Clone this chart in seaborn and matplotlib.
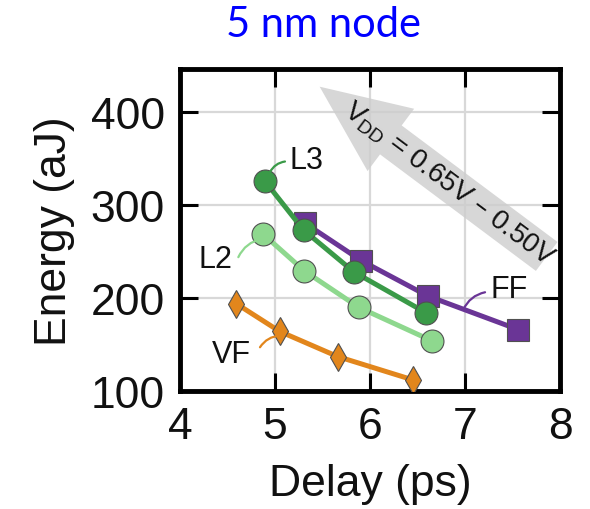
import numpy as np
import pandas as pd
import seaborn as sns
import matplotlib.pyplot as plt

# Energy vs. delay for four cell flavours at the 5 nm node
ff_delay = [5.32, 5.91, 6.61, 7.56]
ff_energy = [280, 240, 202, 166]
l3_delay = [4.89, 5.30, 5.83, 6.59]
l3_energy = [326, 273, 228, 184]
l2_delay = [4.87, 5.31, 5.88, 6.65]
l2_energy = [269, 229, 190, 154]
vf_delay = [4.59, 5.05, 5.66, 6.45]
vf_energy = [194, 164, 137, 112]

x_ticks = [4, 5, 6, 7, 8]
y_ticks = [100, 200, 300, 400]

sns.set_theme(style="white")
plt.rcParams["font.family"] = ["Liberation Sans", "DejaVu Sans"]
plt.rcParams["mathtext.default"] = "regular"

c_ff = "#6a3596"
c_l3 = "#3a9a48"
c_l2 = "#8ed88e"
c_vf = "#e2861c"
edge = "#505050"

fig = plt.figure(figsize=(5.9, 5.1), dpi=100)
ax = fig.add_axes([180 / 590, 118 / 510, 380 / 590, 322 / 510])

# direction-of-VDD arrow (drawn first, under the data)
ax.annotate("", xy=(5.47, 427), xytext=(7.86, 244.6),
            arrowprops=dict(arrowstyle="simple,head_length=6.4,head_width=5.6,tail_width=2.6",
                            mutation_scale=10, fc="#cdcdcd", ec="none", alpha=0.8,
                            shrinkA=0, shrinkB=0), zorder=1)
ax.text(6.83, 323, r"$V_{DD}$ = 0.65V – 0.50V", rotation=-36.75,
        rotation_mode="anchor", ha="center", va="center", fontsize=20,
        color="#111111", zorder=2)

line_kw = dict(linewidth=3.6, markeredgecolor=edge, markeredgewidth=0.8, ax=ax, zorder=3)
sns.lineplot(x=ff_delay, y=ff_energy, color=c_ff, marker="s", markersize=16.5, **line_kw)
sns.lineplot(x=l3_delay, y=l3_energy, color=c_l3, marker="o", markersize=16.5, **line_kw)
sns.lineplot(x=l2_delay, y=l2_energy, color=c_l2, marker="o", markersize=16.5, **line_kw)
sns.lineplot(x=vf_delay, y=vf_energy, color=c_vf, marker="d", markersize=14, **line_kw)

# series labels with curved leader lines
labels = [
    ("L3", (5.33, 348.7), (4.947, 335.2), (5.105, 346.6), c_l3, -0.25),
    ("L2", (4.37, 241.9), (4.614, 243.8), (4.860, 263.4), c_l2, -0.25),
    ("VF", (4.545, 139.8), (4.842, 147.0), (5.053, 159.5), c_vf, -0.25),
    ("FF", (7.46, 209.7), (6.982, 187.4), (7.211, 206.1), c_ff, -0.25),
]
for text, pos, start, end, col, rad in labels:
    ax.text(pos[0], pos[1], text, ha="center", va="center", fontsize=22,
            color="#111111", zorder=4)
    ax.annotate("", xy=end, xytext=start, zorder=4,
                arrowprops=dict(arrowstyle="-", color=col, lw=1.6, shrinkA=0, shrinkB=0,
                                connectionstyle=f"arc3,rad={rad}"))

ax.set_xlim(4, 8)
ax.set_ylim(100, 446)
ax.set_xticks(x_ticks)
ax.set_yticks(y_ticks)
ax.grid(True, color="#d8d8d8", linewidth=1.6)
ax.set_axisbelow(True)
ax.tick_params(direction="in", length=13, width=2.2, color="black",
               top=True, right=True, bottom=True, left=True,
               labelsize=32, pad=11, labelcolor="#111111")
for sp in ax.spines.values():
    sp.set_linewidth(3.5)
    sp.set_color("black")

ax.set_xlabel("Delay (ps)", fontsize=32, labelpad=11, color="#111111")
ax.set_ylabel("Energy (aJ)", fontsize=32, labelpad=11, color="#111111")

fig.text(324 / 590, 1 - 25 / 510, "5 nm node", color="#0000ff", fontsize=30,
         family=["Lato", "DejaVu Sans"], ha="center", va="center")

fig.savefig("out.png", dpi=100)
